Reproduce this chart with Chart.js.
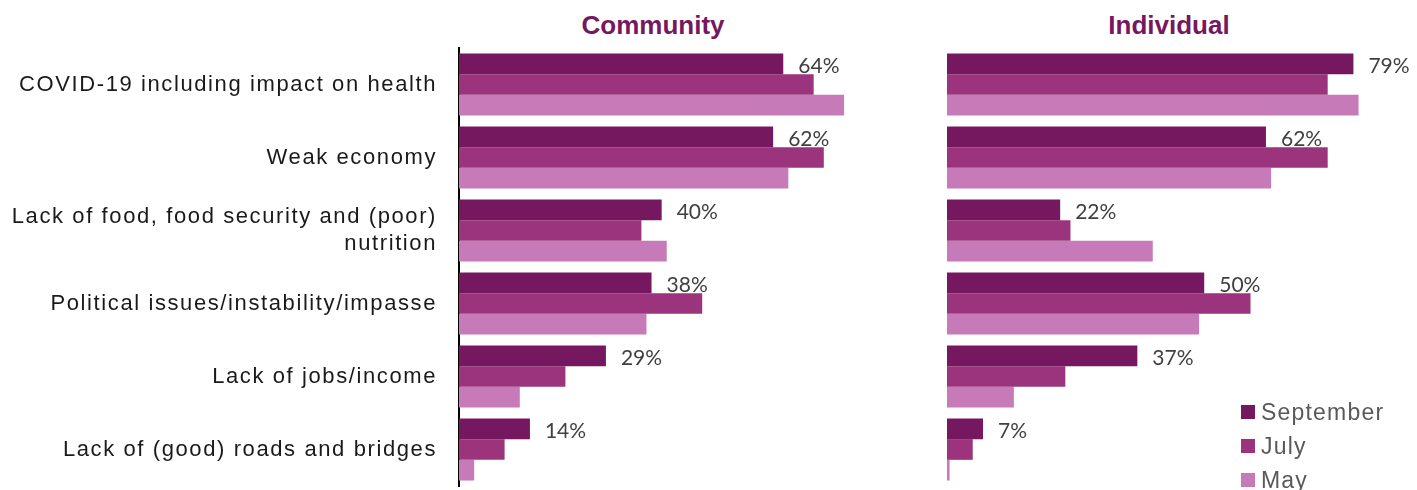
<!DOCTYPE html>
<html>
<head>
<meta charset="utf-8">
<script src="https://cdn.jsdelivr.net/npm/chart.js@4.4.0/dist/chart.umd.min.js"></script>
<style>
    body {
        margin: 0;
        background: #fff;
        width: 1417px;
        height: 490px;
        overflow: hidden;
        position: relative;
        font-family: "Liberation Sans", Arial, sans-serif;
    }
    .panelTitle {
        position: absolute;
        top: 12px;
        font-size: 26px;
        line-height: 26px;
        font-weight: bold;
        color: #76185f;
        transform: translateX(-50%);
        white-space: nowrap;
    }
    canvas { position: absolute; top: 0; }
    #community { left: 0; }
    #individual { left: 947px; }
    .legend {
        position: absolute;
        left: 1241px;
        top: 395px;
        font-size: 23px;
        letter-spacing: 1.2px;
        color: #595959;
    }
    .legend div { display: flex; align-items: center; height: 34px; }
    .legend span.swatch { width: 14px; height: 14px; margin-right: 6px; display: inline-block; }
</style>
</head>
<body>
<div class="panelTitle" style="left:653px">Community</div>
<div class="panelTitle" style="left:1169px">Individual</div>
<canvas id="community" width="915" height="490"></canvas>
<canvas id="individual" width="463" height="490"></canvas>
<div class="legend" id="legend"></div>

<script>
const categories = [
    'COVID-19 including impact on health',
    'Weak economy',
    ['Lack of food, food security and (poor)', 'nutrition'],
    'Political issues/instability/impasse',
    'Lack of jobs/income',
    'Lack of (good) roads and bridges'
];
const seriesNames = ['September', 'July', 'May'];
const seriesColors = ['#76185f', '#9b347c', '#c67bb8'];

const communitySeptember = [64, 62, 40, 38, 29, 14];
const communityJuly = [70, 72, 36, 48, 21, 9];
const communityMay = [76, 65, 41, 37, 12, 3];

const individualSeptember = [79, 62, 22, 50, 37, 7];
const individualJuly = [74, 74, 24, 59, 23, 5];
const individualMay = [80, 63, 40, 49, 13, 0.5];

// category labels are set a little wider than the plain font
const wideText = {
    id: 'wideText',
    beforeUpdate(chart) { chart.ctx.letterSpacing = '1.6px'; },
    beforeDraw(chart) { chart.ctx.letterSpacing = '1.6px'; }
};

// prints the September value just past the end of its bar
const septemberLabels = {
    id: 'septemberLabels',
    afterDatasetsDraw(chart) {
        const ctx = chart.ctx;
        const meta = chart.getDatasetMeta(0);
        const values = chart.data.datasets[0].data;
        ctx.save();
        ctx.letterSpacing = '0px';
        ctx.font = '21px Lato, "Open Sans", sans-serif';
        ctx.fillStyle = '#404040';
        ctx.textAlign = 'left';
        ctx.textBaseline = 'middle';
        meta.data.forEach((bar, i) => {
            ctx.fillText(values[i] + '%', bar.x + 15, bar.y + 2);
        });
        ctx.restore();
    }
};

function makeDatasets(sep, jul, may) {
    return [sep, jul, may].map((values, i) => ({
        label: seriesNames[i],
        data: values,
        backgroundColor: seriesColors[i],
        borderWidth: 0,
        categoryPercentage: 0.85,
        barPercentage: 1.0
    }));
}

function makeChart(canvasId, datasets, showAxis) {
    return new Chart(document.getElementById(canvasId), {
        type: 'bar',
        data: { labels: categories, datasets: datasets },
        options: {
            indexAxis: 'y',
            responsive: false,
            animation: false,
            layout: { padding: { top: 48, bottom: 4, left: 0, right: 0 } },
            plugins: {
                legend: { display: false },
                tooltip: { enabled: false }
            },
            scales: {
                x: {
                    display: false,
                    min: 0,
                    max: 90
                },
                y: {
                    display: showAxis,
                    grid: { display: false, drawTicks: false },
                    border: { display: showAxis, color: '#000', width: 2 },
                    ticks: {
                        color: '#1a1a1a',
                        padding: 22,
                        font: { family: '"Liberation Sans", Arial, sans-serif', size: 22, lineHeight: 1.25 }
                    },
                    afterFit: (scale) => {
                        if (!showAxis) return;
                        scale.width = 459;
                        scale.paddingTop = 0;
                        scale.paddingBottom = 0;
                    }
                }
            }
        },
        plugins: showAxis ? [wideText, septemberLabels] : [septemberLabels]
    });
}

const communityChart = makeChart('community', makeDatasets(communitySeptember, communityJuly, communityMay), true);
makeChart('individual', makeDatasets(individualSeptember, individualJuly, individualMay), false);

// legend built from the dataset colours
const legendEl = document.getElementById('legend');
communityChart.data.datasets.forEach(ds => {
    const row = document.createElement('div');
    row.innerHTML = '<span class="swatch" style="background:' + ds.backgroundColor + '"></span>' + ds.label;
    legendEl.appendChild(row);
});
</script>
</body>
</html>
